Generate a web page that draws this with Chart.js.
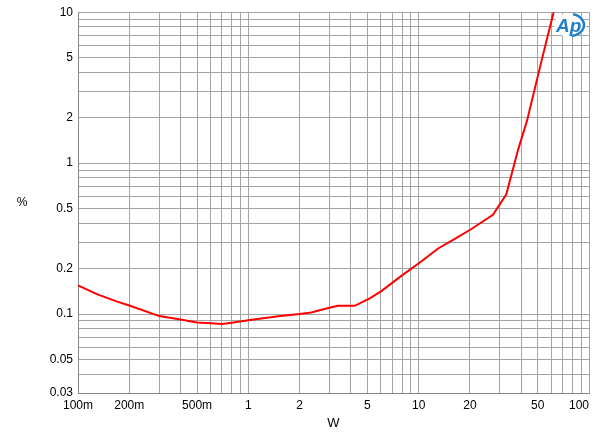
<!DOCTYPE html>
<html>
<head>
<meta charset="utf-8">
<script src="https://cdn.jsdelivr.net/npm/chart.js@4/dist/chart.umd.min.js"></script>
<style>
  html, body { margin: 0; background: #fff; }
</style>
</head>
<body>
<canvas id="thdChart" width="600" height="439"></canvas>
<script>
// THD+N (%) vs output power (W)
const powerW = [0.1, 0.13, 0.17, 0.2, 0.3, 0.4, 0.5, 0.6, 0.7, 0.8, 1, 1.5, 2, 2.34, 2.87, 3.36, 4.21,
                5.16, 6.04, 7.91, 10.4, 13, 16.3, 20.4, 27.3, 32.7, 38.3, 43.3, 53.2, 62];
const thdPct = [0.155, 0.135, 0.121, 0.114, 0.097, 0.092, 0.088, 0.0868, 0.086, 0.0877, 0.091, 0.0966, 0.1, 0.1026, 0.109, 0.1135, 0.1135,
                0.127, 0.142, 0.179, 0.224, 0.272, 0.315, 0.366, 0.455, 0.622, 1.22, 1.92, 5.0, 10.0];

const xTickVals = [0.1, 0.2, 0.5, 1, 2, 5, 10, 20, 50, 100];
const xTickLabels = ['100m', '200m', '500m', '1', '2', '5', '10', '20', '50', '100      '];
const yTickVals = [0.03, 0.05, 0.1, 0.2, 0.5, 1, 2, 5, 10];
const yTickLabels = ['0.03', '0.05', '0.1', '0.2', '0.5', '1', '2', '5', '10'];

const FONT = '"Liberation Sans", Arial, sans-serif';

// grid lines at every 1..9 step of each decade
function decadeGrid(min, max) {
    let vals = [];
    for (let e = -3; e <= 3; e++) {
        for (let m = 1; m <= 9; m++) {
            let v = parseFloat((m * Math.pow(10, e)).toPrecision(6));
            if (v >= min * 0.9999 && v <= max * 1.0001) vals.push(v);
        }
    }
    return vals;
}

function labelFor(v, vals, labels) {
    let i = vals.findIndex(t => Math.abs(t / v - 1) < 1e-6);
    return i === -1 ? '' : labels[i];
}

const extraText = {
    id: 'extraText',
    afterDraw(chart) {
        let ctx = chart.ctx;
        ctx.save();
        ctx.fillStyle = '#000';
        ctx.font = '12px ' + FONT;
        ctx.textAlign = 'center';
        ctx.textBaseline = 'middle';
        ctx.fillText('%', 22, 203);

        // Ap logo
        ctx.fillStyle = '#fff';
        ctx.beginPath();
        ctx.ellipse(570, 25, 16, 12, 0, 0, Math.PI * 2);
        ctx.fill();
        ctx.fillStyle = '#1f7fc8';
        ctx.strokeStyle = '#1f7fc8';
        ctx.font = 'italic bold 19px ' + FONT;
        ctx.textAlign = 'left';
        ctx.textBaseline = 'alphabetic';
        ctx.fillText('Ap', 556, 32);
        ctx.lineWidth = 2.5;
        ctx.beginPath();
        ctx.ellipse(570, 25, 14, 11, 0, -1.35, 1.45);
        ctx.stroke();
        ctx.restore();
    }
};

let ctx = document.getElementById('thdChart').getContext('2d');
let thdChart = new Chart(ctx, {
    type: 'line',
    data: {
        datasets: [{
            data: powerW.map((w, i) => ({ x: w, y: thdPct[i] })),
            borderColor: '#ff0000',
            borderWidth: 2,
            pointRadius: 0,
            tension: 0,
            fill: false
        }]
    },
    options: {
        responsive: false,
        animation: false,
        layout: { padding: { left: 0, top: 11, right: 11, bottom: 0 } },
        plugins: { legend: { display: false }, tooltip: { enabled: false } },
        scales: {
            x: {
                type: 'logarithmic',
                min: 0.1,
                max: 100,
                afterBuildTicks: s => { s.ticks = decadeGrid(0.1, 100).map(v => ({ value: v })); },
                afterFit: s => { s.height = 46; s.paddingLeft = 0; s.paddingRight = 0; },
                ticks: {
                    autoSkip: false,
                    maxRotation: 0,
                    padding: 5,
                    color: '#000',
                    font: { family: FONT, size: 12 },
                    callback: v => labelFor(v, xTickVals, xTickLabels)
                },
                grid: { color: '#a4a4a4', drawTicks: false },
                border: { color: '#888888' },
                title: {
                    display: true,
                    text: 'W',
                    color: '#000',
                    font: { family: FONT, size: 13 },
                    padding: { top: 0, bottom: 8 }
                }
            },
            y: {
                type: 'logarithmic',
                min: 0.03,
                max: 10,
                afterBuildTicks: s => { s.ticks = decadeGrid(0.03, 10).map(v => ({ value: v })); },
                afterFit: s => { s.width = 78; },
                ticks: {
                    autoSkip: false,
                    padding: 5,
                    color: '#000',
                    font: { family: FONT, size: 12 },
                    callback: v => labelFor(v, yTickVals, yTickLabels)
                },
                grid: { color: '#a4a4a4', drawTicks: false },
                border: { color: '#888888' }
            }
        }
    },
    plugins: [extraText]
});
</script>
</body>
</html>
